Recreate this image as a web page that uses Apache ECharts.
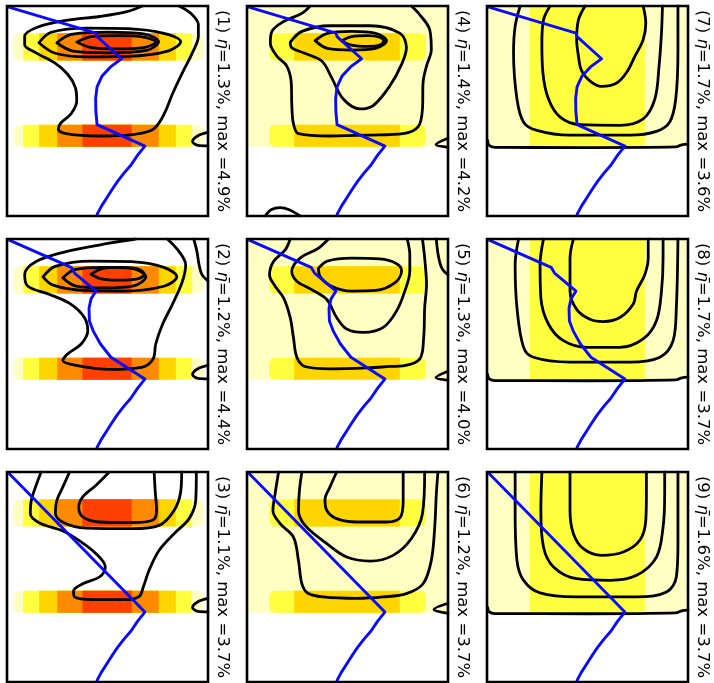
<!DOCTYPE html>
<html>
<head>
<meta charset="utf-8">
<script src="https://cdn.jsdelivr.net/npm/echarts@6/dist/echarts.min.js"></script>
<style>
html,body{margin:0;padding:0;background:#fff}
#chart{width:714px;height:683px}
</style>
</head>
<body>
<div id="chart"></div>
<script>
// Panel annotations: mean and maximum of the field, in per cent
const etaMean = ['1.3', '1.2', '1.1', '1.4', '1.3', '1.2', '1.7', '1.7', '1.6'];
const maxValue = ['4.9', '4.4', '3.7', '4.2', '4.0', '3.7', '3.6', '3.7', '3.7'];

// Depth ranges (0 = top, 100 = bottom) of the two forced rows
const forcingRows = [[13, 26], [56.5, 67]];
// Horizontal extent of each shading level inside a forced row, panels 1-3 (levels 1..5)
const redLevels = [[3, 97.5], [8, 92], [16, 84], [25, 75.5], [37.5, 62]];
// Same for panels 4-6 (levels 2..3), drawn over a level-1 background
const goldLevels = [[11, 89], [23.5, 76]];
// Depth range of the level-1 background in panels 4-9
const shadedDepth = [0, 67];
// Horizontal extent of the level-2 column in panels 7-9
const coreColumn = [21.2, 78.5];

// Shading level colours
const levelColors = ['#ffffff', '#ffffc4', '#ffff40', '#ffd500', '#ff8a00', '#ff4000'];

// Blue profile: upper part per row of panels, then a shared lower branch
const profileTopRow1 = [[0.5, 0.4], [44.3, 12.9], [44.8, 14.6], [57, 25.1], [51.5, 29], [47.2, 33.5], [44.8, 38.5], [44.1, 44], [44.2, 50], [44.8, 56.5]];
const profileTopRow2 = [[0.8, 0.4], [31.9, 13.5], [33.6, 16.2], [44.3, 24.8], [41.8, 28.5], [40.8, 33], [41, 39], [43, 44], [46.5, 50], [51.7, 56.3]];
const profileTopRow3 = [[0.8, 0.5]];
const profileLower = [[68.6, 66.7], [65, 71], [61.7, 75.7], [58.2, 79.6], [55, 83.5], [52.2, 87.5], [49.6, 91.4], [47, 95.3], [44.6, 99.6]];

// Contour lines of each panel, as [x, depth] points
const contours1 = [
  [[67.4,0],[59.2,2.8],[46,5],[29.4,6.9],[15.4,10],[8.8,14.4],[8.8,18.4],[14.5,22.3],[23.6,27],[30.2,32.5],[34,38.8],[34.7,45.1],[31.9,51.3],[26.9,55.6],[25.5,58.7],[30.2,60.9],[46,61.9],[62.5,61.2],[71.6,59.3],[75.4,56],[79,49.8],[82.3,41.9],[87.3,31.7],[92.2,22.3],[95.2,14.4],[95.2,8.9],[91.4,3.5],[85.6,0]],
  [[15.9,17.5],[22,12.5],[40,10.5],[60,10.8],[78,13],[86.4,17],[80,21.5],[60,24],[40,24.2],[24,22.5],[15.9,17.5]],
  [[24.8,17.5],[32,13.5],[50,12.4],[68,13.3],[75.4,17],[70,21],[50,22.3],[33,21.5],[24.8,17.5]],
  [[34.7,17.2],[42,14.6],[55,14.1],[68,14.8],[74,17.2],[68,19.8],[55,20.4],[42,19.8],[34.7,17.2]],
  [[100,60.2],[95,61.8],[92.3,64.5],[95,66.4],[100,66.6]]
];
const contours2 = [
  [[64.1,0],[50.9,2],[29.4,6],[14.5,10.7],[8.8,17],[10.4,22.5],[21.2,26.4],[31.9,31.1],[38.5,37.4],[40.2,43.7],[36.9,50],[30.2,54.7],[27.8,57.9],[34.4,60.2],[50.9,62.1],[67.4,61],[72.7,57.1],[74,50],[77.4,40.6],[82.3,31.1],[87.3,20.1],[88.9,12.3],[85.6,6],[79.8,0]],
  [[92.9,0],[94.5,6],[95.5,12],[97,17],[100,20]],
  [[17.9,18],[24,13],[42,10.5],[62,10.8],[78,13.5],[84.5,18],[78,22.5],[58,24.8],[38,24.5],[23,22],[17.9,18]],
  [[27.8,18.5],[34,14.5],[48,13.5],[62,14],[69.1,18],[63,22.3],[48,23.3],[34,22.3],[27.8,18.5]],
  [[41.8,16.8],[47,14.2],[56,13.5],[65,14.2],[68.3,16.8],[65,19],[56,19.6],[47,19],[41.8,16.8]],
  [[100,60.2],[95,61.8],[92.3,64.5],[95,66.4],[100,66.6]]
];
const contours3 = [
  [[50.9,0],[44.3,6.3],[37.7,11.9],[35.7,16.7],[37.7,21.4],[46,23.8],[62.5,24.1],[72.4,23],[74.4,18.3],[73.7,8.7],[73.2,0]],
  [[31.1,0],[27.8,7.1],[24.8,13.5],[24.1,19.8],[28.6,24.3],[39.3,26.7],[62.5,27],[75.7,25.4],[83.1,18.3],[86.4,9.5],[86.9,0]],
  [[17,0],[14.5,6.3],[12.1,13.5],[11.6,19.8],[16.2,24.3],[27.8,28.1],[36.9,33.3],[44.3,38.9],[48.9,45.2],[46,50],[37.7,53.2],[33.1,56.7],[33.6,59.5],[42.6,60.8],[59.2,60.8],[65.8,59.2],[67.8,54.8],[70.7,46.8],[75.7,37.3],[83.1,29.4],[90.6,22.2],[93.9,13.5],[94.2,0]],
  [[100,60.2],[95,61.8],[92.3,64.5],[95,66.4],[100,66.6]]
];
const contours4 = [
  [[31.4,0],[27.3,3.5],[18.2,7.4],[12.4,12.1],[11.6,17.6],[14.9,23.9],[19.8,28.6],[22,36.4],[22.3,47.4],[23.1,56],[25.6,60.8],[41.3,61.9],[61.2,61.5],[77.7,60.8],[85.1,57.6],[87.3,49],[87.6,36.4],[89.3,28.6],[91.7,20.7],[90.9,11.3],[86,4.2],[81.8,0]],
  [[21.5,17.3],[27.3,12.1],[41.3,9.4],[61.2,9.4],[76,12.9],[79.3,19.9],[76.9,27.8],[71.1,38],[62.8,47.4],[56.2,49],[47.9,44.3],[42.1,34.1],[37.2,26.2],[28.1,22.3],[22.3,19.9],[21.5,17.3]],
  [[33.9,16.5],[40,13],[52,12.1],[64,13],[69.4,16.5],[64,20.2],[52,21],[40,20.2],[33.9,16.5]],
  [[47.1,16.6],[52,14.6],[60,14.1],[66,14.8],[68.1,16.6],[66,18.6],[60,19.2],[52,18.6],[47.1,16.6]],
  [[100,63],[94,66],[100,67.3]],
  [[9.1,100],[12,97],[16.5,96],[21,97],[26.4,100]]
];
const contours5 = [
  [[21.5,0],[19,5.2],[13.2,10.7],[11.2,17],[14,22.5],[18.2,28],[21.5,37.4],[23.1,46.9],[24.8,56.3],[28.9,60.7],[41.3,61.8],[61.2,61.3],[71.1,60.7],[77.7,60.4],[86,57.1],[87.9,46.9],[88.4,32.7],[89.3,21.7],[88.4,9.1],[87.3,0]],
  [[94.2,0],[95.2,8],[97,14],[100,17]],
  [[40.5,0],[35.5,4.4],[26.4,9.1],[22.3,15.4],[24.8,20.1],[32.2,24.1],[39.7,28.8],[44.6,37.4],[49.6,42.9],[57.9,44.5],[67.8,42.1],[74.4,34.3],[78.5,24.8],[81,15.4],[81,7.5],[79.7,0]],
  [[35.5,14],[40,10.5],[52,9.1],[66,9.5],[74,11.5],[76.9,15],[74,20.5],[64,24.5],[52,24.8],[42,22.5],[36.5,18],[35.5,14]],
  [[100,63],[94,66],[100,67.3]]
];
const contours6 = [
  [[44.6,0],[41.3,7.1],[38.8,13.2],[39.7,18.3],[44.6,22.2],[54.5,23.8],[69.4,23.8],[76.4,21.4],[77.7,13.5],[77.7,0]],
  [[27.3,0],[26.1,8.7],[25.6,18.3],[28.9,25.4],[39.7,34.1],[49.6,40.5],[61.2,42.4],[72.7,39.7],[81.8,31.7],[87.3,19.8],[88.4,0]],
  [[15.7,0],[14,10.3],[12.9,18.3],[16.5,24.6],[23.1,31],[25.6,42.1],[27.3,53.2],[30.1,57.6],[38,59.5],[54.5,60.2],[67.8,59.5],[79.3,57.9],[87.6,53.2],[91.7,42.1],[93.4,26.2],[94.2,10.3],[95,0]],
  [[100,62.5],[93,65.5],[100,67.3]]
];
const contours7 = [
  [[48.8,0],[45.5,6.6],[44.6,16],[45.5,23.9],[47.1,30.9],[52.1,36.4],[57,38.3],[64.5,36.7],[69.4,31.7],[73.6,23.9],[77.7,16],[79,8.2],[77.7,0]],
  [[31.4,0],[28.1,6.6],[27.3,17.6],[27.8,31.7],[30.6,44.3],[36.4,52.9],[46.3,56.5],[66.1,56.8],[77.7,53.7],[83.5,44.3],[85.6,28.6],[86.8,12.9],[87.3,0]],
  [[16.5,0],[14,9.7],[13.2,22.3],[14.9,44.3],[18.2,55.3],[24.8,59.2],[41.3,61.5],[71.1,61.5],[84.3,59.7],[90.9,55.3],[93.9,44.3],[95,20.7],[95,0]],
  [[0.3,64],[1,66.3],[4,67.3],[50,67.4],[94,67.1],[96.5,66.2],[100,65.8]]
];
const contours8 = [
  [[43,0],[41.3,9.1],[41.3,24.8],[44.6,33.5],[51.2,38.2],[57.9,39.3],[66.1,37.4],[72.7,31.1],[74.4,24.8],[78.5,17],[80.2,9.1],[80.2,0]],
  [[28.1,0],[26.4,12.3],[26.8,28],[30.6,40.6],[38,48.4],[49.6,51.6],[66.1,51.6],[77.7,47.6],[84.3,38.9],[86.8,24.8],[87.6,9.1],[87.6,0]],
  [[15.7,0],[14,12.3],[14.9,32.7],[18.2,51.6],[23.1,56.3],[41.3,58.6],[71.1,58.6],[86,56.3],[92.6,48.4],[94.2,32.7],[95,0]],
  [[0.3,64.5],[1,66.5],[4,67.4],[50,67.5],[94,67.1],[96.5,66.2],[100,65.8]]
];
const contours9 = [
  [[41.3,0],[41.3,18.3],[43,29.4],[47.9,36.5],[57,39.7],[67.8,38.1],[76,32.5],[79,23],[79.3,10.3],[79.3,0]],
  [[27.3,0],[26.8,18.3],[28.1,35.7],[33.1,45.2],[44.6,50.8],[61.2,51.6],[74.4,49.2],[84.3,40.5],[87.6,26.2],[88.4,10.3],[88.4,0]],
  [[14,0],[14,18.3],[14.9,42.1],[18.2,51.6],[26.4,57.6],[44.6,59.5],[74.4,59.5],[89.3,57.1],[94.2,50],[95,34.1],[95,0]],
  [[0.3,64.5],[1,66.5],[4,67.4],[50,67.5],[94,67.1],[96.5,66.2],[100,65.8]]
];

const allContours = [contours1, contours2, contours3, contours4, contours5, contours6, contours7, contours8, contours9];
const profileTops = [profileTopRow1, profileTopRow2, profileTopRow3];

// Layout: panels run down the columns (1-3 left, 4-6 middle, 7-9 right)
const colLeft = [7, 247, 487];
const rowTop = [6, 239, 472];
const panelW = 201, panelH = 210;

function cellsFor(p) {
  const cells = [];
  const group = Math.floor(p / 3);
  if (group === 0) {
    forcingRows.forEach(r => redLevels.forEach((e, k) => cells.push([e[0], e[1], r[0], r[1], k + 1])));
  } else if (group === 1) {
    cells.push([0, 100, shadedDepth[0], shadedDepth[1], 1]);
    forcingRows.forEach(r => goldLevels.forEach((e, k) => cells.push([e[0], e[1], r[0], r[1], k + 2])));
  } else {
    cells.push([0, 100, shadedDepth[0], shadedDepth[1], 1]);
    cells.push([coreColumn[0], coreColumn[1], shadedDepth[0], shadedDepth[1], 2]);
  }
  return cells;
}

const grids = [], xAxes = [], yAxes = [], series = [];
for (let p = 0; p < 9; p++) {
  const col = Math.floor(p / 3), row = p % 3;
  grids.push({
    left: colLeft[col], top: rowTop[row], width: panelW, height: panelH,
    show: true, borderColor: '#000', borderWidth: 2.6, backgroundColor: 'transparent', z: 10
  });
  xAxes.push({ gridIndex: p, type: 'value', min: 0, max: 100, show: false });
  yAxes.push({
    gridIndex: p, type: 'value', min: 0, max: 100, inverse: true, position: 'right',
    axisLine: { show: false }, axisTick: { show: false }, axisLabel: { show: false }, splitLine: { show: false },
    name: '(' + (p + 1) + ') {it|η̄}=' + etaMean[p] + '%, max =' + maxValue[p] + '%',
    nameLocation: 'middle', nameRotate: -90, nameGap: 6,
    nameTextStyle: {
      fontFamily: 'DejaVu Sans', fontSize: 16.5, color: '#000',
      rich: { it: { fontFamily: 'DejaVu Sans', fontStyle: 'italic', fontSize: 16.5, color: '#000' } }
    }
  });

  const roundLevel = col === 0 ? 1 : (col === 1 ? 2 : -1);
  series.push({
    type: 'custom', xAxisIndex: p, yAxisIndex: p, z: 1, silent: true,
    encode: { x: [0, 1], y: [2, 3] },
    data: cellsFor(p),
    renderItem: function (params, api) {
      const a = api.coord([api.value(0), api.value(2)]);
      const b = api.coord([api.value(1), api.value(3)]);
      const lvl = api.value(4);
      const full = api.value(0) <= 0 && api.value(1) >= 100;
      const h = Math.abs(b[1] - a[1]);
      return {
        type: 'rect',
        shape: {
          x: Math.min(a[0], b[0]), y: Math.min(a[1], b[1]),
          width: Math.abs(b[0] - a[0]), height: h,
          r: (lvl === roundLevel && !full) ? Math.min(h / 2, 6) : 0
        },
        style: { fill: levelColors[lvl] }
      };
    }
  });

  allContours[p].forEach(line => {
    series.push({
      type: 'line', xAxisIndex: p, yAxisIndex: p, z: 3, silent: true,
      data: line, showSymbol: false, symbol: 'none', smooth: 0.35,
      lineStyle: { color: '#000', width: 2.8, join: 'round', cap: 'round' }
    });
  });

  series.push({
    type: 'line', xAxisIndex: p, yAxisIndex: p, z: 4, silent: true,
    data: profileTops[row].concat(profileLower), showSymbol: false, symbol: 'none',
    lineStyle: { color: '#0a0aff', width: 2.9, join: 'round' }
  });
}

const chart = echarts.init(document.getElementById('chart'), null, { renderer: 'canvas' });
chart.setOption({
  animation: false,
  backgroundColor: '#fff',
  grid: grids, xAxis: xAxes, yAxis: yAxes, series: series
});
</script>
</body>
</html>
